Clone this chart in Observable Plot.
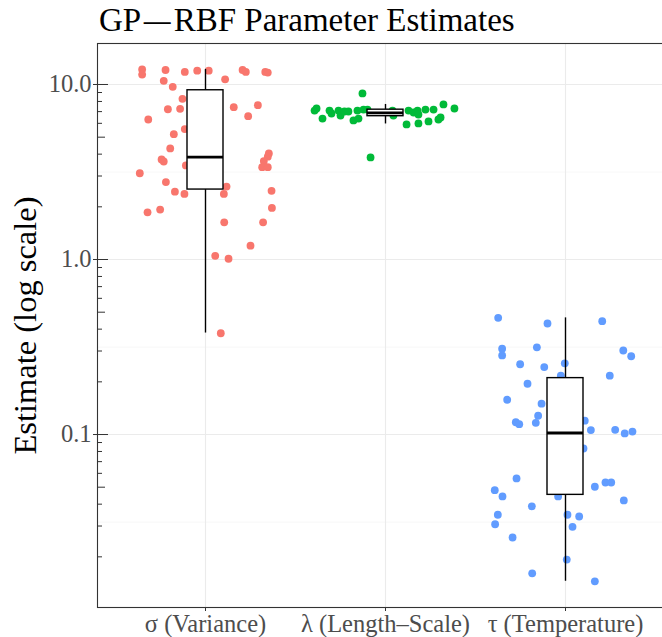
<!DOCTYPE html>
<html>
<head>
<meta charset="utf-8">
<script src="https://cdn.jsdelivr.net/npm/d3@7"></script>
<script src="https://cdn.jsdelivr.net/npm/@observablehq/plot@0.6"></script>
<style>
  html, body { margin: 0; padding: 0; background: white; overflow: hidden; width: 662px; height: 637px; }
  #title { height: 40px; line-height: 40px; font-family: "Liberation Serif", serif; font-size: 33px; color: black; padding-left: 99px; white-space: nowrap; }
  #title .dash { display: inline-block; transform: scaleX(1.6); margin: 0 8px; }
  #chart svg { display: block; overflow: hidden; }
  #chart svg text { font-family: "Liberation Serif", serif !important; }
</style>
</head>
<body>
<div id="title">GP<span class="dash">–</span>RBF Parameter Estimates</div>
<div id="chart"></div>
<script>
// ---- Data ----
const categories = ["σ (Variance)", "λ (Length–Scale)", "τ (Temperature)"];
const colors = ["#F8766D", "#00BA38", "#619CFF"];

const sigmaValues = [12.2, 11.4, 12.1, 11.8, 12.0, 12.0, 12.1, 11.8, 11.8, 11.7, 10.5, 10.7, 9.70, 8.28, 7.22, 7.26, 7.42, 7.62, 6.31, 6.59, 5.56, 5.20, 4.31, 3.73, 3.63, 4.04, 3.87, 3.65, 3.45, 3.37, 3.37, 3.11, 2.77, 2.61, 2.44, 2.37, 2.37, 2.47, 1.86, 1.93, 1.97, 1.63, 1.63, 1.20, 1.05, 1.01, 0.379];
const sigmaJitter = [-0.352, -0.352, -0.222, -0.115, -0.046, 0.018, 0.206, 0.224, 0.332, 0.346, -0.232, 0.109, -0.182, -0.128, -0.209, -0.141, 0.157, 0.291, -0.318, 0.237, -0.115, -0.176, -0.196, -0.244, -0.232, 0.352, 0.346, 0.324, -0.109, 0.315, 0.346, -0.365, -0.220, 0.117, -0.170, -0.117, 0.102, 0.367, -0.322, -0.252, 0.369, 0.104, 0.320, 0.25, 0.054, 0.128, 0.085];

const lambdaValues = [7.10, 7.29, 6.39, 7.10, 6.83, 7.10, 6.65, 7.01, 7.01, 6.23, 7.10, 6.39, 8.89, 7.19, 7.19, 3.83, 7.10, 6.65, 5.91, 7.10, 6.92, 7.10, 6.74, 5.99, 7.19, 6.15, 7.19, 6.31, 6.48, 7.69, 7.29];
const lambdaJitter = [-0.394, -0.383, -0.35, -0.311, -0.3, -0.261, -0.25, -0.228, -0.206, -0.178, -0.156, -0.15, -0.128, -0.122, -0.1, -0.083, 0.039, 0.044, 0.117, 0.128, 0.156, 0.178, 0.183, 0.183, 0.222, 0.239, 0.267, 0.294, 0.306, 0.322, 0.383];

const tauValues = [0.464, 0.431, 0.444, 0.309, 0.283, 0.315, 0.302, 0.280, 0.252, 0.243, 0.255, 0.217, 0.217, 0.195, 0.158, 0.150, 0.128, 0.1175, 0.1145, 0.1167, 0.120, 0.106, 0.1064, 0.1014, 0.104, 0.0832, 0.0561, 0.0503, 0.0532, 0.0532, 0.0481, 0.0443, 0.0443, 0.0420, 0.0389, 0.0348, 0.0307, 0.0348, 0.0340, 0.0297, 0.0258, 0.0193, 0.0161, 0.0145];
const tauJitter = [-0.374, -0.1, 0.204, -0.352, -0.352, -0.159, 0.321, 0.365, -0.252, -0.118, -0.004, 0.246, -0.026, -0.211, -0.324, -0.133, -0.152, -0.276, -0.257, -0.165, 0.107, 0.141, 0.276, 0.329, 0.372, 0.1, -0.272, 0.163, 0.222, 0.254, -0.393, -0.35, -0.041, 0.324, -0.187, -0.376, -0.391, 0.011, 0.076, 0.039, -0.294, 0.007, -0.185, 0.163];

// Box statistics
const boxLower = [0.38, 5.95, 0.0145];
const boxQ1 = [2.51, 6.59, 0.0452];
const boxMedian = [3.85, 6.88, 0.102];
const boxQ3 = [9.27, 7.18, 0.210];
const boxUpper = [12.2, 7.69, 0.464];

// Axis breaks
const majorBreaks = [0.1, 1, 10];
const majorLabels = ["0.1", "1.0", "10.0"];
const minorBreaks = [0.0316, 0.316, 3.16];
const logLong = [0.1, 1, 10];
const logMid = [0.05, 0.5, 5];
const logShort = [0.02, 0.03, 0.04, 0.06, 0.07, 0.08, 0.09, 0.2, 0.3, 0.4, 0.6, 0.7, 0.8, 0.9, 2, 3, 4, 6, 7, 8, 9];

// ---- Build tables ----
const groups = [[sigmaValues, sigmaJitter], [lambdaValues, lambdaJitter], [tauValues, tauJitter]];
const points = [];
groups.forEach(([vals, jit], k) => vals.forEach((v, i) => points.push({k, x: k + 1 + jit[i], y: v})));
const boxes = categories.map((c, k) => ({k, pos: k + 1, lo: boxLower[k], q1: boxQ1[k], med: boxMedian[k], q3: boxQ3[k], hi: boxUpper[k]}));
const labelOf = new Map(majorBreaks.map((b, i) => [b, majorLabels[i]]));
const halfWidth = 0.1;

const chart = Plot.plot({
  width: 662,
  height: 597,
  marginLeft: 97,
  marginRight: -11,
  marginTop: 3,
  marginBottom: 30,
  x: {type: "linear", domain: [0.4, 3.6], axis: null},
  y: {type: "log", domain: [0.01027, 17.15], axis: null},
  style: {fontFamily: "'Liberation Serif', serif", fontSize: "24px", background: "white"},
  marks: [
    Plot.ruleY(minorBreaks, {stroke: "#f2f2f2", strokeWidth: 0.6}),
    Plot.ruleY(majorBreaks, {stroke: "#ebebeb", strokeWidth: 1.1}),
    Plot.ruleX([1, 2, 3], {stroke: "#ebebeb", strokeWidth: 1.1}),
    Plot.dot(points, {x: "x", y: "y", r: 3.9, fill: d => colors[d.k], stroke: "none"}),
    Plot.ruleX(boxes, {x: "pos", y1: "lo", y2: "q1", stroke: "black", strokeWidth: 1.4}),
    Plot.ruleX(boxes, {x: "pos", y1: "q3", y2: "hi", stroke: "black", strokeWidth: 1.4}),
    Plot.rect(boxes, {x1: d => d.pos - halfWidth, x2: d => d.pos + halfWidth, y1: "q1", y2: "q3", fill: "white", stroke: "black", strokeWidth: 1.4}),
    Plot.ruleY(boxes, {y: "med", x1: d => d.pos - halfWidth, x2: d => d.pos + halfWidth, stroke: "black", strokeWidth: 2.8}),
    Plot.frame({stroke: "#333333", strokeWidth: 1.1}),
    Plot.axisY(majorBreaks, {anchor: "left", tickSize: 4, tickPadding: 2, tickFormat: d => labelOf.get(d), stroke: "#333333", fill: "#4d4d4d", label: null, fontSize: 24.5}),
    Plot.axisY(logLong, {anchor: "left", tickSize: -11, fill: "none", stroke: "#333333", label: null}),
    Plot.axisY(logMid, {anchor: "left", tickSize: -8, fill: "none", stroke: "#333333", label: null}),
    Plot.axisY(logShort, {anchor: "left", tickSize: -5, fill: "none", stroke: "#333333", label: null}),
    Plot.axisX([1, 2, 3], {anchor: "bottom", tickSize: 4, tickPadding: 3, tickFormat: d => categories[d - 1], stroke: "#333333", fill: "#4d4d4d", label: null, fontSize: 24.5}),
    Plot.text(["Estimate (log scale)"], {text: d => d, frameAnchor: "left", textAnchor: "middle", lineAnchor: "middle", rotate: -90, dx: -72, fontSize: 32.5, fill: "black"})
  ]
});
document.getElementById("chart").appendChild(chart);
</script>
</body>
</html>
